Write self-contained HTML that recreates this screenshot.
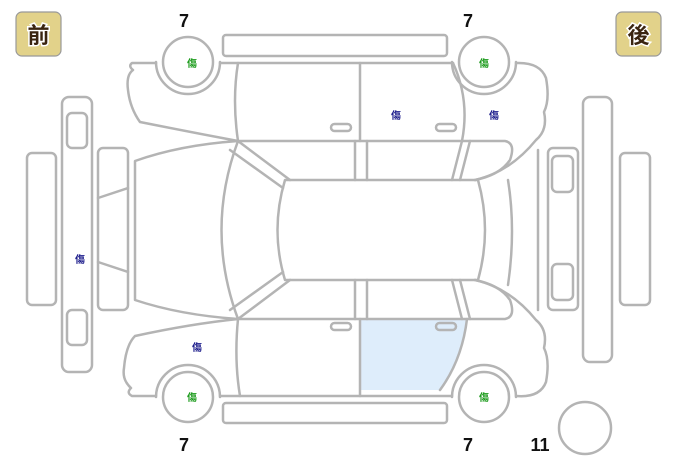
<!DOCTYPE html>
<html><head><meta charset="utf-8"><style>
html,body{margin:0;padding:0;background:#fff;width:678px;height:458px;overflow:hidden}
svg{display:block}
.l{fill:none;stroke:#b4b4b4;stroke-width:2.5;stroke-linejoin:round;stroke-linecap:round}
.k{font-family:"Liberation Sans","Noto Sans CJK JP",sans-serif;font-size:10px;font-weight:bold}
.n{font-family:"Liberation Sans",sans-serif;font-size:18px;font-weight:bold;fill:#111}
</style></head><body>
<svg width="678" height="458" viewBox="0 0 678 458">
<rect x="16" y="12" width="45" height="44" rx="6" fill="#e2d28a" stroke="#999" stroke-width="1.2"/>
<text x="38.5" y="43" text-anchor="middle" font-family="Noto Sans CJK JP,sans-serif" font-weight="bold" font-size="22" fill="#3a2410" stroke="#fff" stroke-width="3" paint-order="stroke">前</text>
<rect x="616" y="12" width="45" height="44" rx="6" fill="#e2d28a" stroke="#999" stroke-width="1.2"/>
<text x="638.5" y="43" text-anchor="middle" font-family="Noto Sans CJK JP,sans-serif" font-weight="bold" font-size="22" fill="#3a2410" stroke="#fff" stroke-width="3" paint-order="stroke">後</text>

<text class="n" x="184" y="27" text-anchor="middle">7</text>
<text class="n" x="468" y="27" text-anchor="middle">7</text>
<text class="n" x="184" y="451" text-anchor="middle">7</text>
<text class="n" x="468" y="451" text-anchor="middle">7</text>
<text class="n" x="540" y="451" text-anchor="middle">11</text>

<path class="l" fill="#ddeefc" d="M361 319 H467 Q462 360 440 390 H361 Z" style="fill:#deedfb;stroke:none"/>

<g class="l">
<!-- sills -->
<rect x="223" y="35" width="224" height="21" rx="3"/>
<rect x="223" y="403" width="224" height="20" rx="3"/>
<!-- wheels -->
<circle cx="188" cy="62" r="25"/><circle cx="484" cy="62" r="25"/>
<circle cx="188" cy="397" r="25"/><circle cx="484" cy="397" r="25"/>
<path d="M156 62 A32 32 0 0 0 220 62"/><path d="M452 62 A32 32 0 0 0 516 62"/>
<path d="M156 397 A32 32 0 0 1 220 397"/><path d="M452 397 A32 32 0 0 1 516 397"/>
<circle cx="585" cy="428" r="26"/>
<!-- top side -->
<path d="M156 63 H132 Q128 66 133 70 Q126 75 128 90 Q130 108 140 122 Q190 132 238 141"/>
<path d="M220 63 H453"/><path d="M516 63 Q540 62 546 78 Q550 100 544 112 Q548 130 536 140 Q510 172 475 180"/>
<path d="M238 63 Q232 100 238 141"/><path d="M360 63 V141"/>
<path d="M453 63 Q470 100 462 141"/>
<rect x="331" y="124" width="20" height="7" rx="3.5"/><rect x="436" y="124" width="20" height="7" rx="3.5"/>
<!-- bottom side -->
<path d="M156 396 H132 Q126 393 131 388 Q122 380 124 368 Q126 345 135 336 Q190 324 238 319"/>
<path d="M220 396 H452"/><path d="M516 396 Q540 398 546 382 Q550 360 544 348 Q548 330 536 320 Q510 288 475 280"/>
<path d="M238 319 Q234 360 240 396"/><path d="M360 319 V396"/>
<path d="M467 319 Q462 360 440 390"/>
<rect x="331" y="323" width="20" height="7" rx="3.5"/><rect x="436" y="323" width="20" height="7" rx="3.5"/>
<!-- top view -->
<path d="M238 141 H505 Q516 143 510 160 Q500 175 475 180"/>
<path d="M238 319 H505 Q516 317 510 300 Q500 285 475 280"/>
<path d="M285 180 H478 Q492 230 478 280 H285 Q270 230 285 180 Z"/>
<path d="M238 141 L290 180 M230 150 L283 188"/>
<path d="M238 319 L290 280 M230 310 L283 272"/>
<path d="M238 141 Q205 230 238 319"/>
<path d="M238 141 Q180 145 135 161 V300 Q180 315 238 319"/>
<path d="M355 141 V180 M367 141 V180 M355 280 V319 M367 280 V319"/>
<path d="M462 141 L452 180 M470 141 L460 180 M462 319 L452 280 M470 319 L460 280"/>
<path d="M508 180 Q516 230 508 285"/>
<path d="M538 150 V310"/>
<!-- front bumpers -->
<rect x="27" y="153" width="29" height="152" rx="5"/>
<rect x="62" y="97" width="30" height="275" rx="7"/>
<rect x="67" y="113" width="20" height="35" rx="5"/><rect x="67" y="310" width="20" height="35" rx="5"/>
<rect x="98" y="148" width="30" height="162" rx="5"/>
<path d="M98 198 L128 188 M98 262 L128 272"/>
<!-- rear bumpers -->
<rect x="548" y="148" width="30" height="162" rx="5"/>
<rect x="552" y="156" width="21" height="36" rx="5"/><rect x="552" y="264" width="21" height="36" rx="5"/>
<rect x="583" y="97" width="29" height="265" rx="7"/>
<rect x="620" y="153" width="30" height="152" rx="5"/>
</g>

<text class="k" x="192" y="67" text-anchor="middle" fill="#1a9a1a">傷</text>
<text class="k" x="484" y="67" text-anchor="middle" fill="#1a9a1a">傷</text>
<text class="k" x="192" y="401" text-anchor="middle" fill="#1a9a1a">傷</text>
<text class="k" x="484" y="401" text-anchor="middle" fill="#1a9a1a">傷</text>
<text class="k" x="396" y="119" text-anchor="middle" fill="#1a1a8a">傷</text>
<text class="k" x="494" y="119" text-anchor="middle" fill="#1a1a8a">傷</text>
<text class="k" x="197" y="351" text-anchor="middle" fill="#1a1a8a">傷</text>
<text class="k" x="80" y="263" text-anchor="middle" fill="#1a1a8a">傷</text>
</svg>
</body></html>
